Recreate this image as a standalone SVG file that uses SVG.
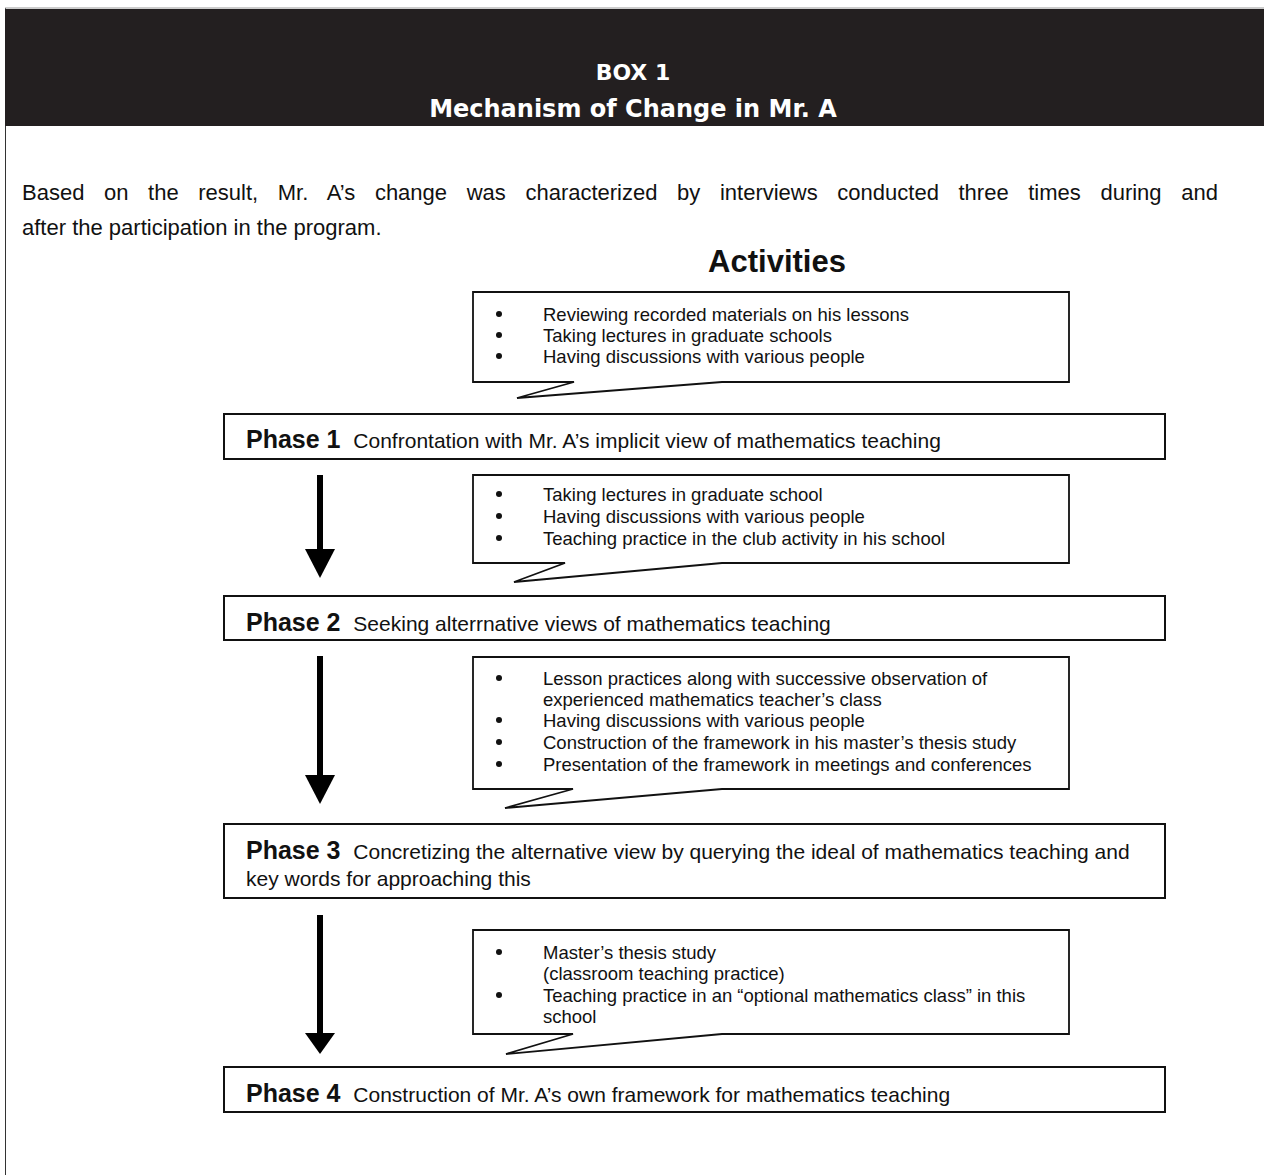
<svg xmlns="http://www.w3.org/2000/svg" width="1264" height="1175" viewBox="0 0 1264 1175">
  <style>
    .hdr { font-family: "DejaVu Sans", sans-serif; font-weight: bold; fill: #ffffff; text-anchor: middle; }
    .body { font-family: "Liberation Sans", Arial, sans-serif; fill: #111111; }
    .intro { font-size: 22px; }
    .title { font-size: 31px; font-weight: bold; text-anchor: middle; }
    .ph { font-size: 25px; font-weight: bold; }
    .phd { font-size: 21px; font-weight: normal; }
    .item { font-size: 18.5px; }
    .box { fill: #ffffff; stroke: #111111; stroke-width: 2; }
    .callout { fill: #ffffff; stroke: #111111; stroke-width: 1.8; stroke-linejoin: miter; }
    .shaft { stroke: #000000; stroke-width: 6; }
    .head { fill: #000000; }
  </style>
  <defs>
    <g id="dot"><circle r="3" fill="#111111"/></g>
  </defs>

  <!-- page frame -->
  <rect x="0" y="0" width="1264" height="1175" fill="#ffffff"/>
  <line x1="5.5" y1="8" x2="5.5" y2="1175" stroke="#333333" stroke-width="1"/>
  <line x1="5" y1="8" x2="1264" y2="8" stroke="#999999" stroke-width="1"/>

  <!-- header band -->
  <g id="header">
    <rect x="5" y="9" width="1259" height="117" fill="#231f20"/>
    <text class="hdr" x="633" y="80" font-size="22">BOX 1</text>
    <text class="hdr" x="633" y="117" font-size="24">Mechanism of Change in Mr. A</text>
  </g>

  <g id="intro" class="body">
    <text class="intro" x="22" y="200" word-spacing="13.5">Based on the result, Mr. A’s change was characterized by interviews conducted three times during and</text>
    <text class="intro" x="22" y="235">after the participation in the program.</text>
    <text class="title" x="777" y="272">Activities</text>
  </g>

  <!-- activity callouts -->
  <g id="activities-1" class="body">
    <path class="callout" d="M473,292 H1069 V382 H722 L517,398 L574,382 H473 Z"/>
    <use href="#dot" x="499" y="314"/><use href="#dot" x="499" y="335"/><use href="#dot" x="499" y="356"/>
    <text class="item" x="543" y="321">Reviewing recorded materials on his lessons</text>
    <text class="item" x="543" y="342">Taking lectures in graduate schools</text>
    <text class="item" x="543" y="363">Having discussions with various people</text>
  </g>

  <g id="activities-2" class="body">
    <path class="callout" d="M473,475 H1069 V563 H722 L514,582 L565,563 H473 Z"/>
    <use href="#dot" x="499" y="494"/><use href="#dot" x="499" y="516"/><use href="#dot" x="499" y="538"/>
    <text class="item" x="543" y="501">Taking lectures in graduate school</text>
    <text class="item" x="543" y="523">Having discussions with various people</text>
    <text class="item" x="543" y="545">Teaching practice in the club activity in his school</text>
  </g>

  <g id="activities-3" class="body">
    <path class="callout" d="M473,657 H1069 V789 H722 L505,808 L573,789 H473 Z"/>
    <use href="#dot" x="499" y="678"/><use href="#dot" x="499" y="720"/><use href="#dot" x="499" y="742"/><use href="#dot" x="499" y="764"/>
    <text class="item" x="543" y="685">Lesson practices along with successive observation of</text>
    <text class="item" x="543" y="706">experienced mathematics teacher’s class</text>
    <text class="item" x="543" y="727">Having discussions with various people</text>
    <text class="item" x="543" y="749">Construction of the framework in his master’s thesis study</text>
    <text class="item" x="543" y="771">Presentation of the framework in meetings and conferences</text>
  </g>

  <g id="activities-4" class="body">
    <path class="callout" d="M473,930 H1069 V1034 H722 L506,1054 L573,1034 H473 Z"/>
    <use href="#dot" x="499" y="952"/><use href="#dot" x="499" y="995"/>
    <text class="item" x="543" y="959">Master’s thesis study</text>
    <text class="item" x="543" y="980">(classroom teaching practice)</text>
    <text class="item" x="543" y="1002">Teaching practice in an “optional mathematics class” in this</text>
    <text class="item" x="543" y="1023">school</text>
  </g>

  <!-- phase boxes -->
  <g id="phase-1" class="body">
    <rect class="box" x="224" y="414" width="941" height="45"/>
    <text x="246" y="448"><tspan class="ph">Phase 1</tspan><tspan class="phd" dx="7"> Confrontation with Mr. A’s implicit view of mathematics teaching</tspan></text>
  </g>

  <g id="phase-2" class="body">
    <rect class="box" x="224" y="596" width="941" height="44"/>
    <text x="246" y="631"><tspan class="ph">Phase 2</tspan><tspan class="phd" dx="7"> Seeking alterrnative views of mathematics teaching</tspan></text>
  </g>

  <g id="phase-3" class="body">
    <rect class="box" x="224" y="824" width="941" height="74"/>
    <text x="246" y="859"><tspan class="ph">Phase 3</tspan><tspan class="phd" dx="7"> Concretizing the alternative view by querying the ideal of mathematics teaching and</tspan></text>
    <text class="phd" x="246" y="886">key words for approaching this</text>
  </g>

  <g id="phase-4" class="body">
    <rect class="box" x="224" y="1067" width="941" height="45"/>
    <text x="246" y="1102"><tspan class="ph">Phase 4</tspan><tspan class="phd" dx="7"> Construction of Mr. A’s own framework for mathematics teaching</tspan></text>
  </g>

  <!-- connectors between phases -->
  <g id="connectors">
    <line class="shaft" x1="320" y1="475" x2="320" y2="551"/>
    <polygon class="head" points="305,549 335,549 320,578"/>
    <line class="shaft" x1="320" y1="656" x2="320" y2="777"/>
    <polygon class="head" points="305,775 335,775 320,804"/>
    <line class="shaft" x1="320" y1="915" x2="320" y2="1035"/>
    <polygon class="head" points="305,1033 335,1033 320,1054"/>
  </g>
</svg>
